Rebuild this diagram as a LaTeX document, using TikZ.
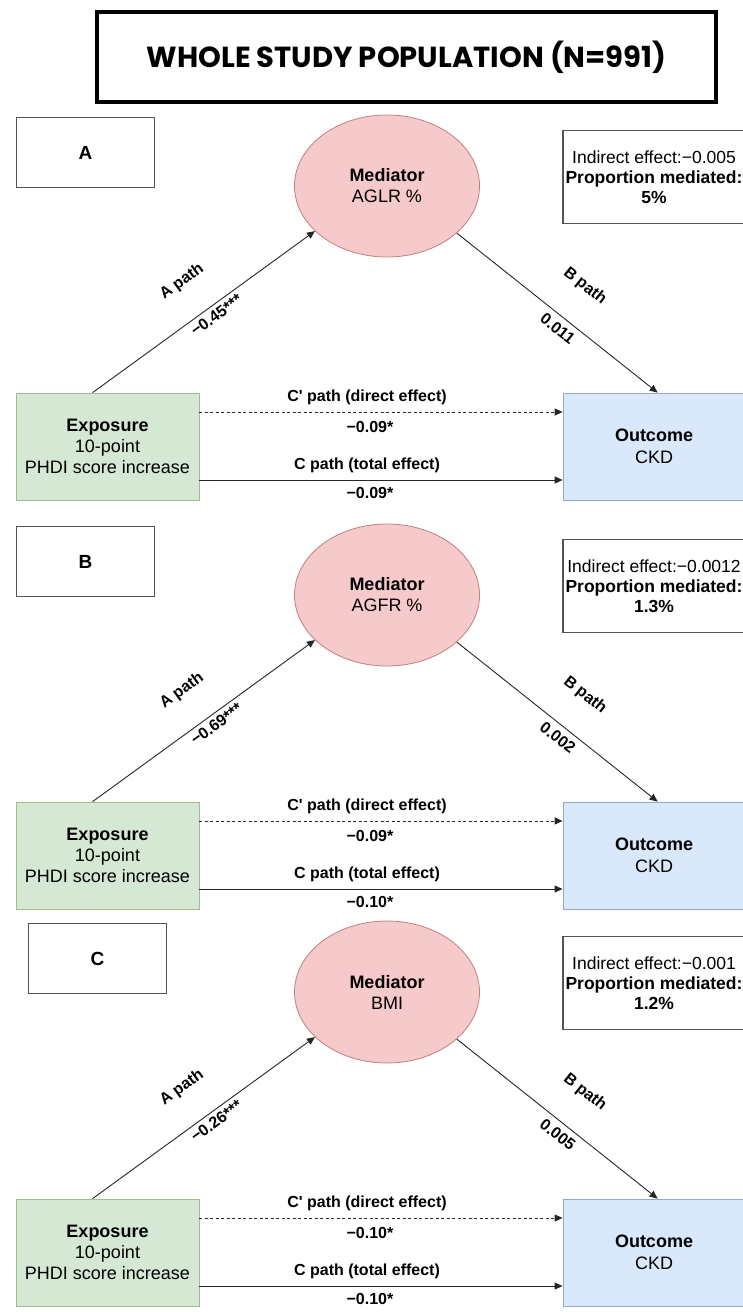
\documentclass[tikz,border=0pt]{standalone}
\usepackage{fontspec}
\setmainfont{Liberation Sans}
\newfontfamily\titlefont{Poppins}
\usetikzlibrary{arrows.meta,shapes.geometric}
\definecolor{expF}{HTML}{D5E8D4}
\definecolor{expD}{HTML}{9DC08B}
\definecolor{outF}{HTML}{DAE8FC}
\definecolor{outD}{HTML}{8FA9CF}
\definecolor{medF}{HTML}{F6CACA}
\definecolor{medD}{HTML}{C08080}
\definecolor{boxD}{HTML}{555555}
\begin{document}
\begin{tikzpicture}[x=1pt,y=-1pt,
  titlebox/.style={draw, line width=4pt, minimum width=619pt, minimum height=90pt, inner sep=0pt,
    font=\titlefont\bfseries\fontsize{29}{32}\selectfont},
  lblbox/.style={draw=boxD, line width=1.4pt, minimum width=138pt, minimum height=70pt,
    font=\bfseries\fontsize{19}{21}\selectfont},
  medell/.style={ellipse, draw=medD, line width=0.8pt, fill=medF, minimum width=185pt,
    minimum height=142pt, inner sep=0pt, align=center, font=\fontsize{18}{21}\selectfont},
  infobox/.style={draw=boxD, line width=1.4pt, minimum width=182pt, minimum height=93pt,
    inner sep=0pt, align=center, font=\fontsize{17.5}{20}\selectfont},
  expbox/.style={draw=expD, fill=expF, line width=0.8pt, minimum width=183pt, minimum height=107pt,
    inner sep=0pt, align=center, font=\fontsize{18}{21}\selectfont},
  outbox/.style={draw=outD, fill=outF, line width=0.8pt, minimum width=182pt, minimum height=107pt,
    inner sep=0pt, align=center, font=\fontsize{18}{22}\selectfont},
  plbl/.style={font=\bfseries\fontsize{16}{18}\selectfont, inner sep=1pt},
  arr/.style={draw=black!85, line width=0.9pt, -{Triangle[length=8pt,width=7pt]}},
  darr/.style={arr, dash pattern=on 3pt off 2.5pt},
]
\useasboundingbox (0,0) rectangle (743,1312);
\fill[white] (0,0) rectangle (743,1312);

\node[titlebox] (title) at (406.5,57) {WHOLE STUDY POPULATION (N=991)};

\foreach \dy/\lt/\lx/\med/\ind/\prop/\va/\vb/\vcp/\vc in {
   0/A/85.5/AGLR \%/{\textminus}0.005/5\%/{\textminus}0.45***/0.011/{\textminus}0.09*/{\textminus}0.09*,
   409/B/85.5/AGFR \%/{\textminus}0.0012/1.3\%/{\textminus}0.69***/0.002/{\textminus}0.09*/{\textminus}0.10*,
   806/C/97.5/BMI/{\textminus}0.001/1.2\%/{\textminus}0.26***/0.005/{\textminus}0.10*/{\textminus}0.10*}{
  \begin{scope}[shift={(0,\dy)}]
    \node[lblbox] (lbl\lt) at (\lx,152.5) {\lt};
    \node[medell] (med\lt) at (387,186) {\textbf{Mediator}\\\med};
    \node[infobox] (inf\lt) at (654,177) {Indirect effect:\ind\\\textbf{Proportion mediated:}\\\textbf{\prop}};
    \node[expbox] (exp\lt) at (107.5,446.5) {\textbf{Exposure}\\10-point\\PHDI score increase};
    \node[outbox] (out\lt) at (654,446.5) {\textbf{Outcome}\\CKD};
    \draw[arr] ([xshift=77pt]exp\lt.north west) -- (med\lt.212)
      node[plbl, sloped, pos=0.50, yshift=37pt] {A path}
      node[plbl, sloped, pos=0.53, yshift=-10pt] {\va};
    \draw[arr] (med\lt.326) -- ([xshift=95pt]out\lt.north west)
      node[plbl, sloped, pos=0.52, yshift=38pt] {B path}
      node[plbl, sloped, pos=0.54, yshift=-12pt] {\vb};
    \draw[darr] ([yshift=34.5pt]exp\lt.east) -- ([yshift=34.5pt]out\lt.west)
      node[plbl, midway, xshift=-14pt, yshift=15pt] {C\textquotesingle\ path (direct effect)}
      node[plbl, midway, xshift=-11pt, yshift=-15pt] {\vcp};
    \draw[arr] ([yshift=-33.5pt]exp\lt.east) -- ([yshift=-33.5pt]out\lt.west)
      node[plbl, midway, xshift=-14pt, yshift=15pt] {C path (total effect)}
      node[plbl, midway, xshift=-11pt, yshift=-13pt] {\vc};
  \end{scope}
}
\end{tikzpicture}
\end{document}
